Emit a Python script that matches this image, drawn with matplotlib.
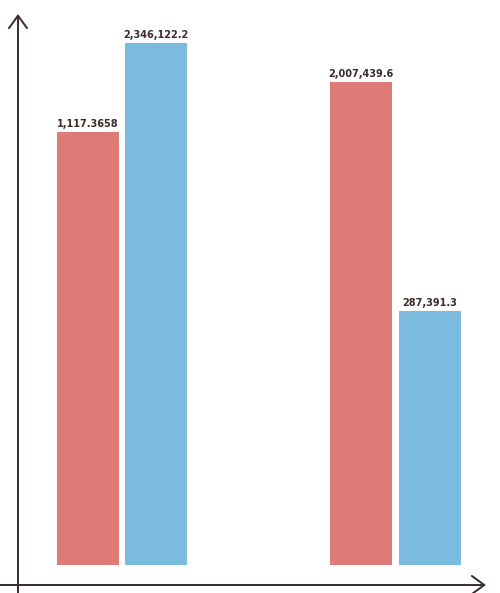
import matplotlib
matplotlib.use('Agg')
import matplotlib.pyplot as plt
import numpy as np

# Bar heights (hand-drawn, not to scale with labels)
groups = [0, 1]
red_heights = [433, 483]
blue_heights = [522, 254]
red_labels = ['1,117.3658', '2,007,439.6']
blue_labels = ['2,346,122.2', '287,391.3']

red_color = '#df7b76'
blue_color = '#7bbbdf'
ink = '#3b2b2b'

fig = plt.figure(figsize=(5.0, 5.93), dpi=100)
ax = fig.add_axes([0, 0, 1, 1])
ax.set_xlim(-0.446, 1.382)
ax.set_ylim(-28, 565)
ax.axis('off')

x = np.array(groups)
width = 0.227
offset = 0.125
ax.bar(x - offset, red_heights, width, color=red_color)
ax.bar(x + offset, blue_heights, width, color=blue_color)

for xi, h, lab in zip(x - offset, red_heights, red_labels):
    ax.text(xi, h + 3, lab, ha='center', va='bottom', fontsize=7,
            fontweight='bold', color=ink)
for xi, h, lab in zip(x + offset, blue_heights, blue_labels):
    ax.text(xi, h + 3, lab, ha='center', va='bottom', fontsize=7,
            fontweight='bold', color=ink)

# hand-drawn style axes with open arrowheads
arrow = dict(arrowstyle='->,head_length=0.9,head_width=0.65', color=ink, lw=1.4,
             shrinkA=0, shrinkB=0)
ax.annotate('', xy=(18 / 500, 1 - 14 / 593), xytext=(18 / 500, 0),
            xycoords='axes fraction', textcoords='axes fraction', arrowprops=arrow)
ax.annotate('', xy=(486 / 500, 1 - 585 / 593), xytext=(0, 1 - 585 / 593),
            xycoords='axes fraction', textcoords='axes fraction', arrowprops=arrow)

plt.savefig('out.png', dpi=100)
